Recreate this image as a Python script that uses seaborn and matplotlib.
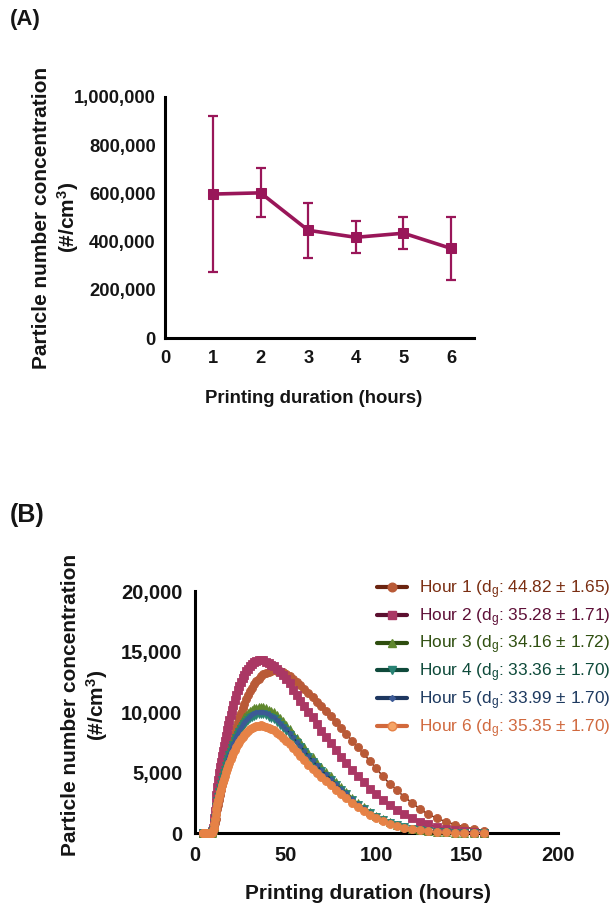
import matplotlib
matplotlib.use("Agg")
import matplotlib.pyplot as plt
import seaborn as sns
from matplotlib.lines import Line2D
from matplotlib.ticker import FuncFormatter

sns.set_theme(style="white")
plt.rcParams["font.family"] = ["Liberation Sans", "DejaVu Sans"]
plt.rcParams["font.weight"] = "bold"
plt.rcParams["mathtext.fontset"] = "custom"
plt.rcParams["mathtext.rm"] = "Liberation Sans:weight=normal"
plt.rcParams["mathtext.it"] = "Liberation Sans:italic:weight=normal"
plt.rcParams["mathtext.bf"] = "Liberation Sans:bold"

# ---- Panel A: mean particle number concentration per printing hour ----
hours = [1, 2, 3, 4, 5, 6]
pnc_mean = [597000, 602000, 447000, 418000, 435000, 372000]
pnc_sd = [324000, 101000, 114000, 66000, 67000, 131000]

# ---- Panel B: size distributions for each hour ----
size_bins = [
    4.53, 4.70, 4.87, 5.05, 5.23, 5.42, 5.62, 5.83, 6.04, 6.26,
    6.49, 6.73, 6.98, 7.23, 7.50, 7.77, 8.06, 8.35, 8.66, 8.98,
    9.31, 9.65, 10.00, 10.37, 10.75, 11.14, 11.55, 11.97, 12.41, 12.86,
    13.34, 13.82, 14.33, 14.86, 15.40, 15.96, 16.55, 17.15, 17.78, 18.43,
    19.11, 19.81, 20.54, 21.29, 22.07, 22.88, 23.71, 24.58, 25.48, 26.42,
    27.38, 28.39, 29.43, 30.51, 31.62, 32.78, 33.98, 35.22, 36.52, 37.85,
    39.24, 40.68, 42.17, 43.71, 45.32, 46.98, 48.70, 50.48, 52.33, 54.25,
    56.23, 58.29, 60.43, 62.64, 64.94, 67.32, 69.78, 72.34, 74.99, 77.74,
    80.58, 83.54, 86.60, 89.77, 93.06, 96.47, 100.00, 103.66, 107.46, 111.40,
    115.48, 119.71, 124.09, 128.64, 133.35, 138.24, 143.30, 148.55, 154.00, 159.64,
]

hour1 = [
    0, 0, 0, 0, 0, 0, 0, 0, 0, 0,
    0, 0, 0, 0, 0, 0, 2, 5, 10, 23,
    51, 99, 187, 347, 573, 866, 1203, 1576, 1977, 2371,
    2779, 3160, 3557, 3957, 4351, 4747, 5154, 5539, 5928, 6348,
    6738, 7142, 7545, 7962, 8366, 8769, 9173, 9563, 9966, 10343,
    10706, 11069, 11406, 11715, 12011, 12293, 12535, 12764, 12952, 13114,
    13248, 13342, 13410, 13450, 13437, 13376, 13316, 13147, 12979, 12724,
    12482, 12240, 11890, 11567, 11231, 10868, 10518, 10088, 9684, 9159,
    8675, 8205, 7626, 7088, 6591, 5958, 5380, 4694, 4089, 3564,
    2999, 2529, 2004, 1587, 1237, 968, 722, 538, 351, 229,
]
hour2 = [
    0, 0, 0, 0, 0, 0, 0, 0, 0, 0,
    0, 0, 0, 0, 0, 0, 4, 9, 19, 41,
    90, 199, 410, 748, 1238, 1845, 2503, 3160, 3832, 4404,
    4962, 5448, 5920, 6378, 6793, 7207, 7636, 8065, 8494, 8938,
    9367, 9796, 10210, 10625, 11040, 11426, 11798, 12155, 12498, 12813,
    13099, 13356, 13585, 13785, 13957, 14100, 14200, 14271, 14300, 14286,
    14157, 14043, 13914, 13800, 13556, 13313, 13085, 12727, 12370, 11869,
    11397, 10940, 10468, 10010, 9581, 8995, 8437, 7922, 7436, 6850,
    6292, 5792, 5205, 4690, 4219, 3689, 3218, 2731, 2317, 1959,
    1573, 1258, 958, 729, 529, 386, 257, 172, 99, 57,
]
hour3 = [
    0, 0, 0, 0, 0, 0, 0, 0, 0, 0,
    0, 0, 0, 0, 0, 0, 3, 6, 14, 30,
    66, 145, 300, 547, 905, 1348, 1829, 2309, 2801, 3219,
    3626, 3981, 4326, 4661, 4964, 5267, 5580, 5894, 6207, 6531,
    6845, 7158, 7461, 7764, 8067, 8350, 8621, 8883, 9133, 9363,
    9572, 9760, 9928, 10074, 10199, 10304, 10377, 10429, 10450, 10440,
    10325, 10210, 10095, 9980, 9729, 9489, 9248, 8924, 8621, 8235,
    7869, 7524, 7085, 6667, 6270, 5831, 5434, 5058, 4703, 4243,
    3825, 3449, 2947, 2508, 2142, 1766, 1463, 1144, 896, 700,
    520, 387, 277, 199, 129, 84, 51, 31, 18, 10,
]
hour4 = [
    0, 0, 0, 0, 0, 0, 0, 0, 0, 0,
    0, 0, 0, 0, 0, 0, 3, 6, 13, 29,
    62, 137, 283, 515, 853, 1271, 1724, 2177, 2640, 3034,
    3418, 3753, 4078, 4393, 4679, 4964, 5260, 5555, 5851, 6156,
    6452, 6747, 7033, 7319, 7604, 7870, 8126, 8373, 8609, 8826,
    9023, 9200, 9358, 9495, 9614, 9712, 9781, 9830, 9850, 9840,
    9732, 9623, 9515, 9407, 9170, 8944, 8717, 8412, 8126, 7762,
    7417, 7092, 6678, 6284, 5910, 5496, 5122, 4767, 4433, 3999,
    3605, 3251, 2778, 2364, 2019, 1665, 1379, 1079, 844, 660,
    491, 364, 261, 187, 121, 79, 48, 30, 17, 10,
]
hour5 = [
    0, 0, 0, 0, 0, 0, 0, 0, 0, 0,
    0, 0, 0, 0, 0, 0, 3, 6, 13, 29,
    63, 140, 288, 526, 870, 1296, 1759, 2221, 2693, 3095,
    3487, 3829, 4161, 4482, 4774, 5065, 5367, 5668, 5970, 6281,
    6583, 6884, 7176, 7467, 7759, 8030, 8291, 8543, 8784, 9005,
    9206, 9387, 9548, 9688, 9809, 9909, 9980, 10030, 10050, 10040,
    9929, 9819, 9708, 9598, 9357, 9125, 8894, 8583, 8291, 7919,
    7568, 7236, 6814, 6412, 6030, 5608, 5226, 4864, 4523, 4080,
    3678, 3317, 2834, 2412, 2060, 1698, 1407, 1100, 861, 673,
    500, 372, 266, 191, 124, 80, 49, 30, 17, 10,
]
hour6 = [
    0, 0, 0, 0, 0, 0, 0, 0, 0, 0,
    0, 0, 0, 0, 0, 0, 3, 5, 12, 26,
    56, 124, 255, 465, 771, 1148, 1558, 1967, 2385, 2741,
    3088, 3391, 3685, 3969, 4228, 4486, 4753, 5020, 5287, 5563,
    5830, 6097, 6355, 6613, 6871, 7111, 7343, 7565, 7779, 7974,
    8152, 8313, 8455, 8580, 8686, 8775, 8838, 8882, 8900, 8891,
    8793, 8695, 8597, 8500, 8286, 8081, 7877, 7601, 7343, 7013,
    6702, 6408, 6034, 5678, 5340, 4966, 4628, 4308, 4005, 3613,
    3257, 2937, 2510, 2136, 1825, 1504, 1246, 975, 763, 596,
    443, 329, 236, 169, 109, 71, 44, 27, 15, 9,
]

series_labels = [
    r"Hour 1 (d$_\mathrm{g}$: 44.82 ± 1.65)",
    r"Hour 2 (d$_\mathrm{g}$: 35.28 ± 1.71)",
    r"Hour 3 (d$_\mathrm{g}$: 34.16 ± 1.72)",
    r"Hour 4 (d$_\mathrm{g}$: 33.36 ± 1.70)",
    r"Hour 5 (d$_\mathrm{g}$: 33.99 ± 1.70)",
    r"Hour 6 (d$_\mathrm{g}$: 35.35 ± 1.70)",
]

# styling per series: (line colour, marker colour, marker, marker size, text colour)
styles = [
    ("#6B2410", "#B95A37", "o", 5.8, "#7A2E12"),
    ("#5C1030", "#AA3764", "s", 5.4, "#5E1038"),
    ("#2E4D0F", "#5F872D", "^", 5.8, "#2F4F10"),
    ("#0F4A3B", "#288273", "v", 5.8, "#0E4A3A"),
    ("#1E3760", "#3C5A96", "D", 2.6, "#1E3A60"),
    ("#D2693C", "#E68246", "o", 5.8, "#D0693E"),
]

W, H = 614, 909
fig = plt.figure(figsize=(W / 100, H / 100), dpi=100)
fig.patch.set_facecolor("white")

axA = fig.add_axes([165.3 / W, 1 - 338.3 / H, 308.7 / W, 241.6 / H])
axB = fig.add_axes([194.7 / W, 1 - 833.3 / H, 363 / W, 242.3 / H])


def style_axes(ax, size, ticklen, ypad):
    ax.set_facecolor("white")
    for side in ("top", "right"):
        ax.spines[side].set_visible(False)
    for side in ("left", "bottom"):
        ax.spines[side].set_linewidth(2.2)
        ax.spines[side].set_color("black")
    ax.tick_params(axis="both", which="major", direction="out", length=ticklen,
                   width=2.2, color="black", pad=4, labelcolor="#151515",
                   labelsize=size)
    ax.tick_params(axis="y", pad=ypad)
    ax.yaxis.set_major_formatter(FuncFormatter(lambda v, p: f"{int(v):,}"))
    ax.grid(False)


# Panel A
col_a = "#991659"
sns.lineplot(x=hours, y=pnc_mean, ax=axA, color=col_a, linewidth=2.6,
             marker="s", markersize=7.5, markeredgecolor=col_a,
             markerfacecolor=col_a, errorbar=None, clip_on=False, zorder=3)
axA.errorbar(hours, pnc_mean, yerr=pnc_sd, fmt="none", ecolor=col_a,
             elinewidth=1.6, capsize=3.6, capthick=1.6, clip_on=False, zorder=3)
axA.set_xlim(0, 6.48)
axA.set_ylim(0, 1000000)
axA.set_xticks([0, 1, 2, 3, 4, 5, 6])
axA.set_yticks([0, 200000, 400000, 600000, 800000, 1000000])
style_axes(axA, 13.2, 4.4, 2.5)
axA.set_xlabel("Printing duration (hours)", fontsize=13.3, fontweight="bold",
               color="#151515")
axA.xaxis.set_label_coords((314 - 165.3) / 308.7, (338.3 - 390) / 241.6)
axA.set_ylabel("Particle number concentration\n(#/cm$^{\\mathbf{3}}$)",
               fontsize=15, fontweight="bold", color="#151515")
axA.yaxis.set_label_coords((81 - 165.3) / 308.7, 0.5)

# Panel B
series = [hour1, hour2, hour3, hour4, hour5, hour6]
for vals, (lc, mc, mk, ms, tc) in zip(series, styles):
    sns.lineplot(x=size_bins, y=vals, ax=axB, color=lc, linewidth=1.1,
                 marker=mk, markersize=ms, markerfacecolor=mc,
                 markeredgecolor=mc, markeredgewidth=0.6, errorbar=None,
                 clip_on=False, zorder=3, legend=False)
axB.set_xlim(0, 200)
axB.set_ylim(0, 20000)
axB.set_xticks([0, 50, 100, 150, 200])
axB.set_yticks([0, 5000, 10000, 15000, 20000])
style_axes(axB, 14.5, 5, 4)
axB.set_xlabel("Printing duration (hours)", fontsize=15, fontweight="bold",
               color="#151515")
axB.xaxis.set_label_coords((368 - 194.7) / 363, (833.3 - 884) / 242.3)
axB.set_ylabel("Particle number concentration\n(#/cm$^{\\mathbf{3}}$)",
               fontsize=15, fontweight="bold", color="#151515")
axB.yaxis.set_label_coords((110 - 194.7) / 363, 0.53)

handles = []
for i, (lc, mc, mk, ms, tc) in enumerate(styles):
    mfc = "#F5A466" if i == 5 else mc
    handles.append(Line2D([], [], color=lc, linewidth=3.0, marker=mk,
                          markersize=ms + 0.4, markerfacecolor=mfc,
                          markeredgecolor=mc))
leg = axB.legend(handles, series_labels, loc="center left",
                 bbox_to_anchor=(377 / W, 1 - 659 / H),
                 bbox_transform=fig.transFigure, frameon=False,
                 borderpad=0, borderaxespad=0, handlelength=1.75,
                 handletextpad=0.7, labelspacing=0.3,
                 prop={"size": 12.4, "weight": "normal"})
for txt, st in zip(leg.get_texts(), styles):
    txt.set_color(st[4])

fig.text(10 / W, 1 - 9 / H, "(A)", fontsize=16, fontweight="bold",
         ha="left", va="top", color="#151515")
fig.text(10 / W, 1 - 503 / H, "(B)", fontsize=18, fontweight="bold",
         ha="left", va="top", color="#151515")

fig.savefig("out.png", dpi=100, facecolor="white")
